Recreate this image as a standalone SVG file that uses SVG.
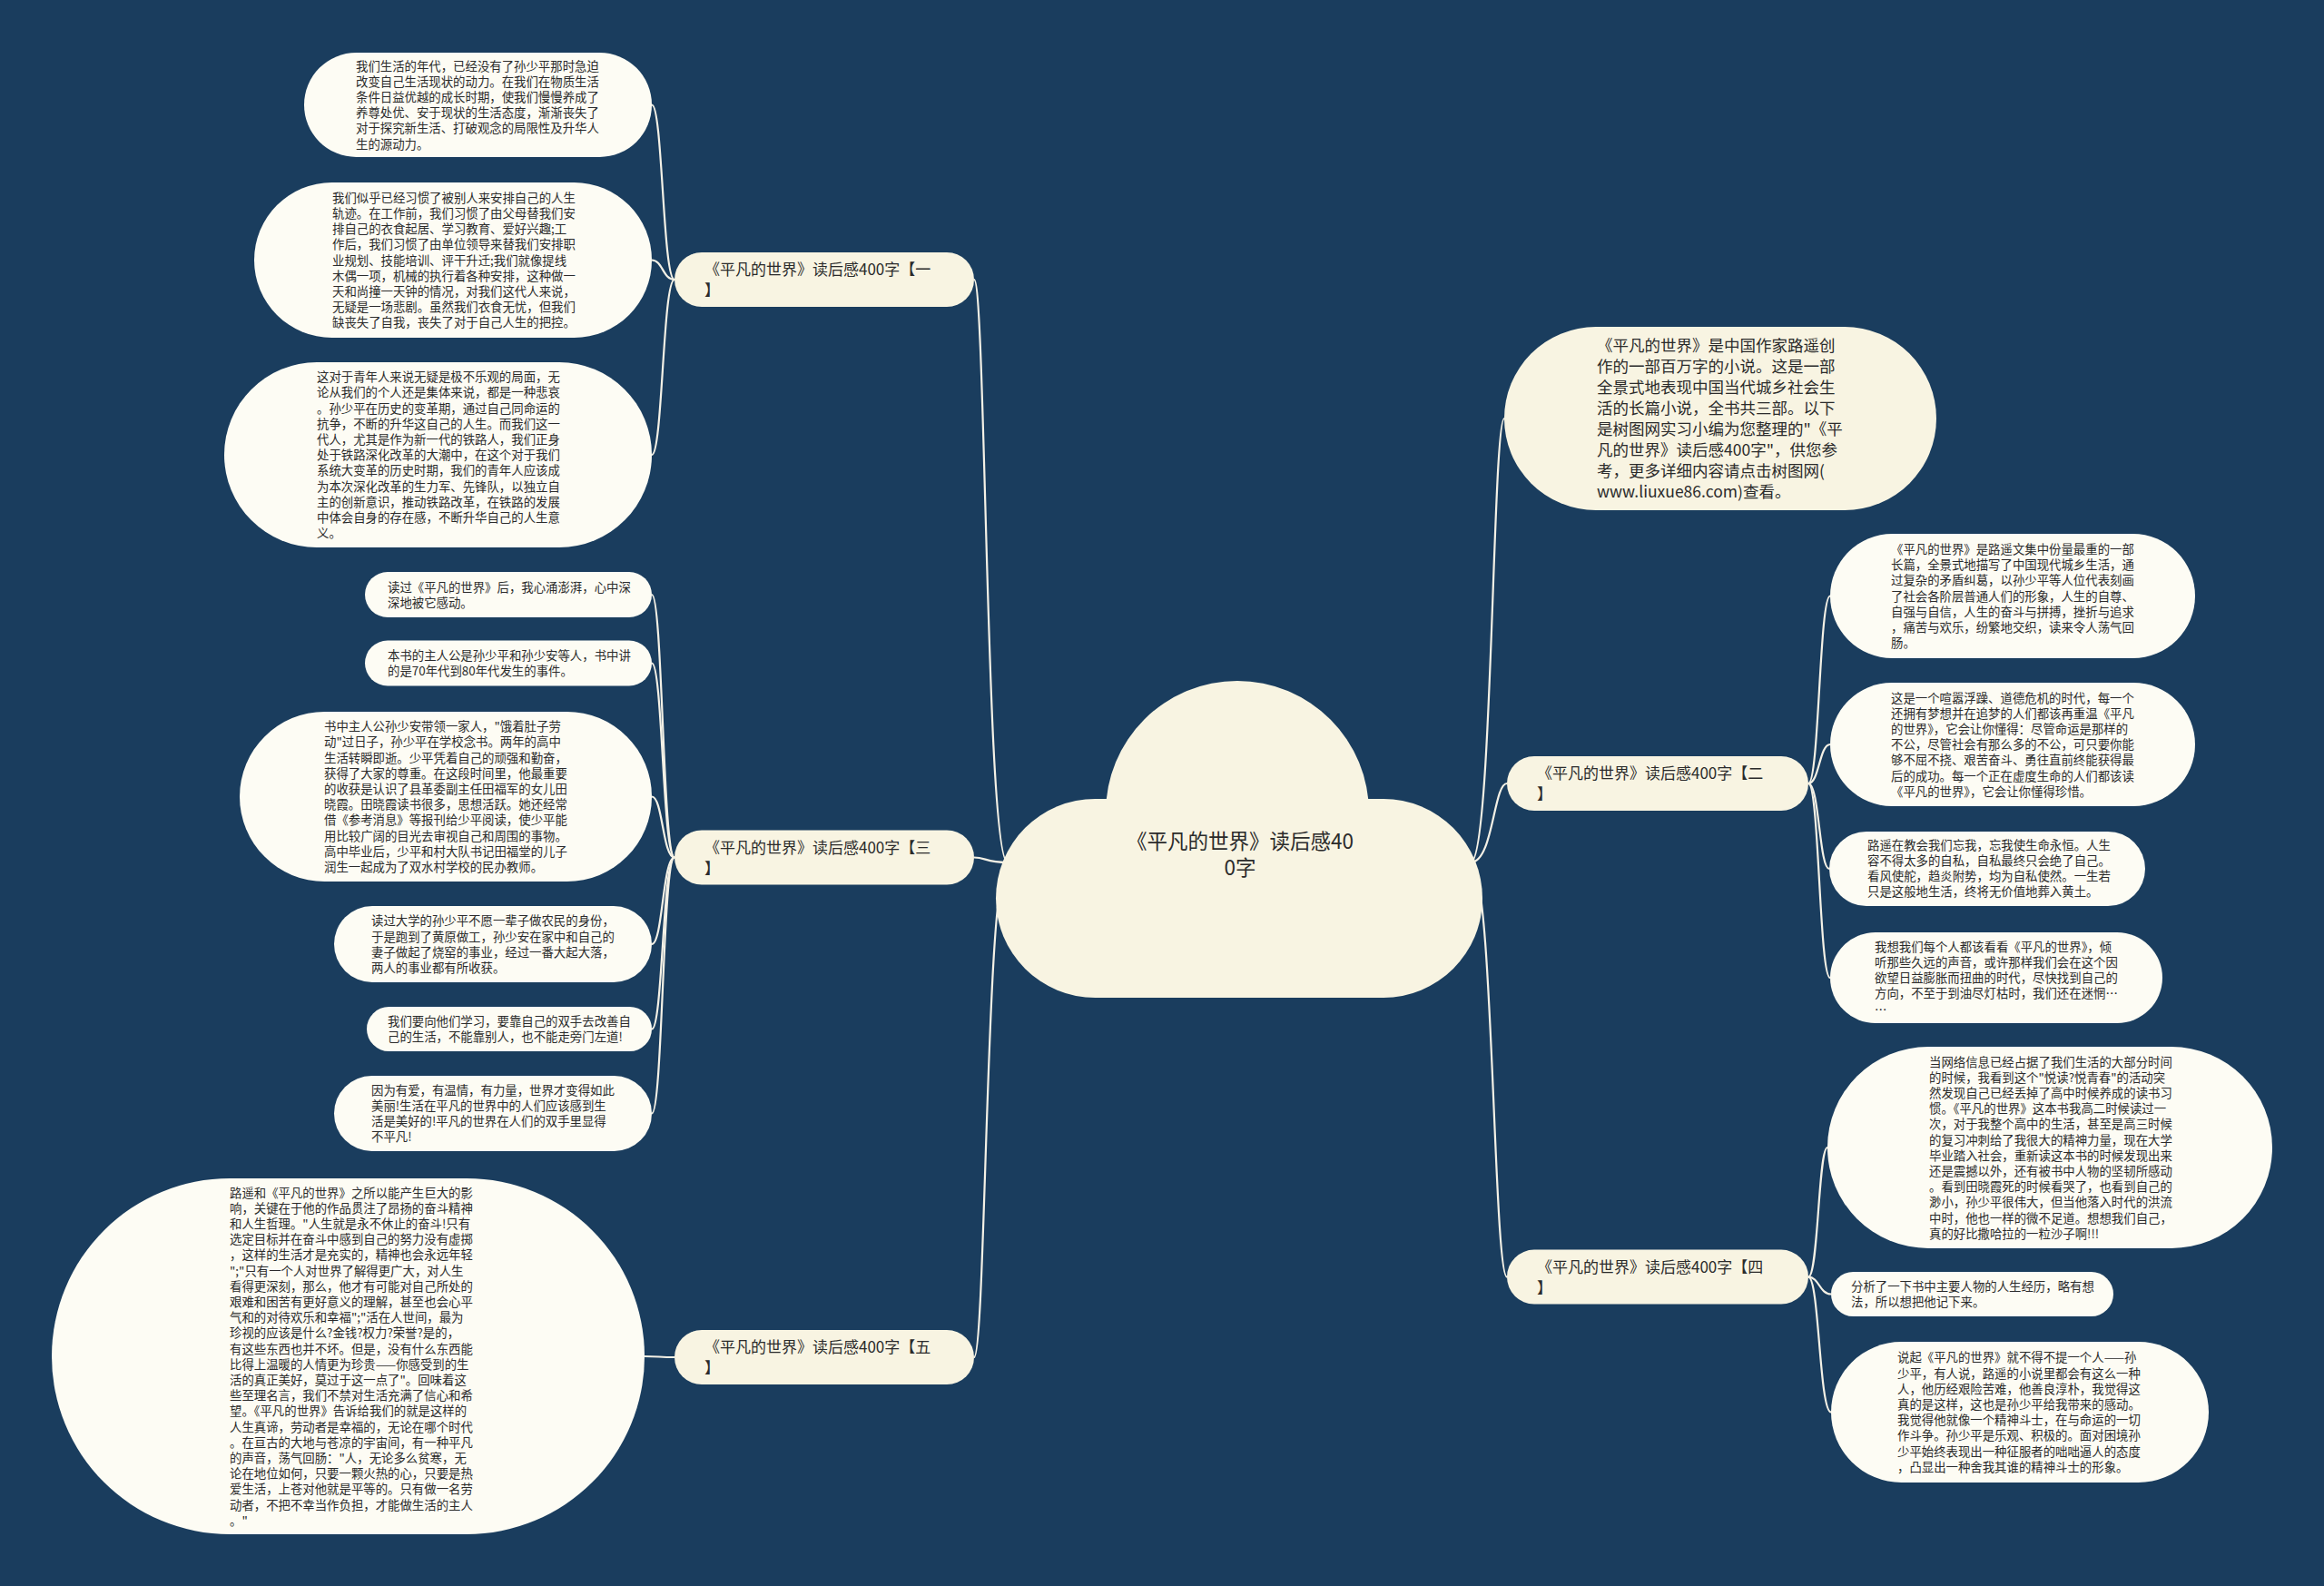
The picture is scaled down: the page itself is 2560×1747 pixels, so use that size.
<svg xmlns="http://www.w3.org/2000/svg" width="2560" height="1747" viewBox="0 0 2560 1747">
<style>
.bg{fill:#1a3d5e}
.leaf{fill:#fdfcf4}
.cream{fill:#f8f4e2}
.c{fill:none;stroke:#f4f1e6;stroke-width:2.2}
text{font-family:"Noto Sans CJK SC","Noto Sans",sans-serif;fill:#2b2b2b}
.t{font-size:13.4px}
.b{font-size:17px}
.i{font-size:17.5px}
.m{font-size:22.5px}
</style>
<rect class="bg" x="0" y="0" width="2560" height="1747"/>
<g id="connectors">
<path class="c" d="M1110,950 C1086,950 1086,308 1073,308"/>
<path class="c" d="M1110,950 C1086,950 1086,944.5 1073,944.5"/>
<path class="c" d="M1110,950 C1086,950 1086,1495 1073,1495"/>
<path class="c" d="M1620,950 C1644,950 1644,461 1657,461"/>
<path class="c" d="M1620,950 C1645,950 1645,863 1660,863"/>
<path class="c" d="M1620,950 C1645,950 1645,1406.6 1660,1406.6"/>
<path class="c" d="M743,308 C730,308 730,115.5 718,115.5"/>
<path class="c" d="M743,308 C730,308 730,286.5 718,286.5"/>
<path class="c" d="M743,308 C730,308 730,501 718,501"/>
<path class="c" d="M743,944.5 C730,944.5 730,655 718,655"/>
<path class="c" d="M743,944.5 C730,944.5 730,730.5 718,730.5"/>
<path class="c" d="M743,944.5 C730,944.5 730,877.5 718,877.5"/>
<path class="c" d="M743,944.5 C730,944.5 730,1040 718,1040"/>
<path class="c" d="M743,944.5 C730,944.5 730,1133.5 718,1133.5"/>
<path class="c" d="M743,944.5 C730,944.5 730,1226.5 718,1226.5"/>
<path class="c" d="M743,1495 C726,1495 726,1494 710,1494"/>
<path class="c" d="M1992,863 C2004,863 2004,656.5 2016,656.5"/>
<path class="c" d="M1992,863 C2004,863 2004,820 2016,820"/>
<path class="c" d="M1992,863 C2004,863 2004,957 2015,957"/>
<path class="c" d="M1992,863 C2004,863 2004,1077 2016,1077"/>
<path class="c" d="M1992,1406.6 C2003,1406.6 2003,1264 2013,1264"/>
<path class="c" d="M1992,1406.6 C2004,1406.6 2004,1425.5 2017,1425.5"/>
<path class="c" d="M1992,1406.6 C2004,1406.6 2004,1555.5 2017,1555.5"/>
</g>
<g id="center">
<circle class="cream" cx="1363" cy="895" r="145"/>
<rect class="cream" x="1097" y="880" width="536" height="219" rx="109.5"/>
<text class="m" text-anchor="middle"><tspan x="1366" y="934.6">《平凡的世界》读后感40</tspan><tspan x="1366" dy="29">0字</tspan></text>
</g>
<g id="intro">
<rect class="cream" x="1657" y="360" width="476" height="202" rx="101"/>
<text class="i"><tspan x="1759" y="387.1">《平凡的世界》是中国作家路遥创</tspan><tspan x="1759" dy="23">作的一部百万字的小说。这是一部</tspan><tspan x="1759" dy="23">全景式地表现中国当代城乡社会生</tspan><tspan x="1759" dy="23">活的长篇小说，全书共三部。以下</tspan><tspan x="1759" dy="23">是树图网实习小编为您整理的"《平</tspan><tspan x="1759" dy="23">凡的世界》读后感400字"，供您参</tspan><tspan x="1759" dy="23">考，更多详细内容请点击树图网(</tspan><tspan x="1759" dy="23">www.liuxue86.com)查看。</tspan></text>
</g>
<g id="branch1">
<rect class="cream" x="743" y="278" width="330" height="60" rx="30"/>
<text class="b"><tspan x="776" y="303">《平凡的世界》读后感400字【一</tspan><tspan x="776" dy="23">】</tspan></text>
</g>
<g id="branch3">
<rect class="cream" x="743" y="914.5" width="330" height="60" rx="30"/>
<text class="b"><tspan x="776" y="939.5">《平凡的世界》读后感400字【三</tspan><tspan x="776" dy="23">】</tspan></text>
</g>
<g id="branch5">
<rect class="cream" x="743" y="1465" width="330" height="60" rx="30"/>
<text class="b"><tspan x="776" y="1490">《平凡的世界》读后感400字【五</tspan><tspan x="776" dy="23">】</tspan></text>
</g>
<g id="branch2">
<rect class="cream" x="1660" y="833" width="332" height="60" rx="30"/>
<text class="b"><tspan x="1693" y="858">《平凡的世界》读后感400字【二</tspan><tspan x="1693" dy="23">】</tspan></text>
</g>
<g id="branch4">
<rect class="cream" x="1660" y="1376.6" width="332" height="60" rx="30"/>
<text class="b"><tspan x="1693" y="1401.6">《平凡的世界》读后感400字【四</tspan><tspan x="1693" dy="23">】</tspan></text>
</g>
<g id="leaf-l1">
<rect class="leaf" x="335" y="58" width="383" height="115" rx="57.5"/>
<text class="t"><tspan x="392" y="77.6">我们生活的年代，已经没有了孙少平那时急迫</tspan><tspan x="392" dy="17.2">改变自己生活现状的动力。在我们在物质生活</tspan><tspan x="392" dy="17.2">条件日益优越的成长时期，使我们慢慢养成了</tspan><tspan x="392" dy="17.2">养尊处优、安于现状的生活态度，渐渐丧失了</tspan><tspan x="392" dy="17.2">对于探究新生活、打破观念的局限性及升华人</tspan><tspan x="392" dy="17.2">生的源动力。</tspan></text>
</g>
<g id="leaf-l2">
<rect class="leaf" x="280" y="201" width="438" height="171" rx="85.5"/>
<text class="t"><tspan x="366" y="222.8">我们似乎已经习惯了被别人来安排自己的人生</tspan><tspan x="366" dy="17.2">轨迹。在工作前，我们习惯了由父母替我们安</tspan><tspan x="366" dy="17.2">排自己的衣食起居、学习教育、爱好兴趣;工</tspan><tspan x="366" dy="17.2">作后，我们习惯了由单位领导来替我们安排职</tspan><tspan x="366" dy="17.2">业规划、技能培训、评干升迁;我们就像提线</tspan><tspan x="366" dy="17.2">木偶一项，机械的执行着各种安排，这种做一</tspan><tspan x="366" dy="17.2">天和尚撞一天钟的情况，对我们这代人来说，</tspan><tspan x="366" dy="17.2">无疑是一场悲剧。虽然我们衣食无忧，但我们</tspan><tspan x="366" dy="17.2">缺丧失了自我，丧失了对于自己人生的把控。</tspan></text>
</g>
<g id="leaf-l3">
<rect class="leaf" x="247" y="399" width="471" height="204" rx="102"/>
<text class="t"><tspan x="349" y="420.1">这对于青年人来说无疑是极不乐观的局面，无</tspan><tspan x="349" dy="17.2">论从我们的个人还是集体来说，都是一种悲哀</tspan><tspan x="349" dy="17.2">。孙少平在历史的变革期，通过自己同命运的</tspan><tspan x="349" dy="17.2">抗争，不断的升华这自己的人生。而我们这一</tspan><tspan x="349" dy="17.2">代人，尤其是作为新一代的铁路人，我们正身</tspan><tspan x="349" dy="17.2">处于铁路深化改革的大潮中，在这个对于我们</tspan><tspan x="349" dy="17.2">系统大变革的历史时期，我们的青年人应该成</tspan><tspan x="349" dy="17.2">为本次深化改革的生力军、先锋队，以独立自</tspan><tspan x="349" dy="17.2">主的创新意识，推动铁路改革，在铁路的发展</tspan><tspan x="349" dy="17.2">中体会自身的存在感，不断升华自己的人生意</tspan><tspan x="349" dy="17.2">义。</tspan></text>
</g>
<g id="leaf-s1">
<rect class="leaf" x="402" y="630" width="316" height="50" rx="25"/>
<text class="t"><tspan x="427" y="651.5">读过《平凡的世界》后，我心涌澎湃，心中深</tspan><tspan x="427" dy="17.2">深地被它感动。</tspan></text>
</g>
<g id="leaf-s2">
<rect class="leaf" x="402" y="705.5" width="316" height="50" rx="25"/>
<text class="t"><tspan x="427" y="727">本书的主人公是孙少平和孙少安等人，书中讲</tspan><tspan x="427" dy="17.2">的是70年代到80年代发生的事件。</tspan></text>
</g>
<g id="leaf-s3">
<rect class="leaf" x="264" y="784" width="454" height="187" rx="93.5"/>
<text class="t"><tspan x="357" y="805.2">书中主人公孙少安带领一家人，"饿着肚子劳</tspan><tspan x="357" dy="17.2">动"过日子，孙少平在学校念书。两年的高中</tspan><tspan x="357" dy="17.2">生活转瞬即逝。少平凭着自己的顽强和勤奋，</tspan><tspan x="357" dy="17.2">获得了大家的尊重。在这段时间里，他最重要</tspan><tspan x="357" dy="17.2">的收获是认识了县革委副主任田福军的女儿田</tspan><tspan x="357" dy="17.2">晓霞。田晓霞读书很多，思想活跃。她还经常</tspan><tspan x="357" dy="17.2">借《参考消息》等报刊给少平阅读，使少平能</tspan><tspan x="357" dy="17.2">用比较广阔的目光去审视自己和周围的事物。</tspan><tspan x="357" dy="17.2">高中毕业后，少平和村大队书记田福堂的儿子</tspan><tspan x="357" dy="17.2">润生一起成为了双水村学校的民办教师。</tspan></text>
</g>
<g id="leaf-s4">
<rect class="leaf" x="368" y="998" width="350" height="84" rx="42"/>
<text class="t"><tspan x="409" y="1019.3">读过大学的孙少平不愿一辈子做农民的身份，</tspan><tspan x="409" dy="17.2">于是跑到了黄原做工，孙少安在家中和自己的</tspan><tspan x="409" dy="17.2">妻子做起了烧窑的事业，经过一番大起大落，</tspan><tspan x="409" dy="17.2">两人的事业都有所收获。</tspan></text>
</g>
<g id="leaf-s5">
<rect class="leaf" x="404" y="1109" width="314" height="49" rx="24.5"/>
<text class="t"><tspan x="427" y="1130">我们要向他们学习，要靠自己的双手去改善自</tspan><tspan x="427" dy="17.2">己的生活，不能靠别人，也不能走旁门左道!</tspan></text>
</g>
<g id="leaf-s6">
<rect class="leaf" x="368" y="1185" width="350" height="83" rx="41.5"/>
<text class="t"><tspan x="409" y="1205.8">因为有爱，有温情，有力量，世界才变得如此</tspan><tspan x="409" dy="17.2">美丽!生活在平凡的世界中的人们应该感到生</tspan><tspan x="409" dy="17.2">活是美好的!平凡的世界在人们的双手里显得</tspan><tspan x="409" dy="17.2">不平凡!</tspan></text>
</g>
<g id="leaf-s7">
<rect class="leaf" x="57" y="1298" width="653" height="392" rx="196"/>
<text class="t"><tspan x="253" y="1318.5">路遥和《平凡的世界》之所以能产生巨大的影</tspan><tspan x="253" dy="17.2">响，关键在于他的作品贯注了昂扬的奋斗精神</tspan><tspan x="253" dy="17.2">和人生哲理。"人生就是永不休止的奋斗!只有</tspan><tspan x="253" dy="17.2">选定目标并在奋斗中感到自己的努力没有虚掷</tspan><tspan x="253" dy="17.2">，这样的生活才是充实的，精神也会永远年轻</tspan><tspan x="253" dy="17.2">";"只有一个人对世界了解得更广大，对人生</tspan><tspan x="253" dy="17.2">看得更深刻，那么，他才有可能对自己所处的</tspan><tspan x="253" dy="17.2">艰难和困苦有更好意义的理解，甚至也会心平</tspan><tspan x="253" dy="17.2">气和的对待欢乐和幸福";"活在人世间，最为</tspan><tspan x="253" dy="17.2">珍视的应该是什么?金钱?权力?荣誉?是的，</tspan><tspan x="253" dy="17.2">有这些东西也并不坏。但是，没有什么东西能</tspan><tspan x="253" dy="17.2">比得上温暖的人情更为珍贵——你感受到的生</tspan><tspan x="253" dy="17.2">活的真正美好，莫过于这一点了"。回味着这</tspan><tspan x="253" dy="17.2">些至理名言，我们不禁对生活充满了信心和希</tspan><tspan x="253" dy="17.2">望。《平凡的世界》告诉给我们的就是这样的</tspan><tspan x="253" dy="17.2">人生真谛，劳动者是幸福的，无论在哪个时代</tspan><tspan x="253" dy="17.2">。在亘古的大地与苍凉的宇宙间，有一种平凡</tspan><tspan x="253" dy="17.2">的声音，荡气回肠："人，无论多么贫寒，无</tspan><tspan x="253" dy="17.2">论在地位如何，只要一颗火热的心，只要是热</tspan><tspan x="253" dy="17.2">爱生活，上苍对他就是平等的。只有做一名劳</tspan><tspan x="253" dy="17.2">动者，不把不幸当作负担，才能做生活的主人</tspan><tspan x="253" dy="17.2">。"</tspan></text>
</g>
<g id="leaf-r1">
<rect class="leaf" x="2016" y="588" width="402" height="137" rx="68.5"/>
<text class="t"><tspan x="2083" y="610">《平凡的世界》是路遥文集中份量最重的一部</tspan><tspan x="2083" dy="17.2">长篇，全景式地描写了中国现代城乡生活，通</tspan><tspan x="2083" dy="17.2">过复杂的矛盾纠葛，以孙少平等人位代表刻画</tspan><tspan x="2083" dy="17.2">了社会各阶层普通人们的形象，人生的自尊、</tspan><tspan x="2083" dy="17.2">自强与自信，人生的奋斗与拼搏，挫折与追求</tspan><tspan x="2083" dy="17.2">，痛苦与欢乐，纷繁地交织，读来令人荡气回</tspan><tspan x="2083" dy="17.2">肠。</tspan></text>
</g>
<g id="leaf-r2">
<rect class="leaf" x="2016" y="752" width="402" height="136" rx="68"/>
<text class="t"><tspan x="2083" y="773.5">这是一个喧嚣浮躁、道德危机的时代，每一个</tspan><tspan x="2083" dy="17.2">还拥有梦想并在追梦的人们都该再重温《平凡</tspan><tspan x="2083" dy="17.2">的世界》，它会让你懂得：尽管命运是那样的</tspan><tspan x="2083" dy="17.2">不公，尽管社会有那么多的不公，可只要你能</tspan><tspan x="2083" dy="17.2">够不屈不挠、艰苦奋斗、勇往直前终能获得最</tspan><tspan x="2083" dy="17.2">后的成功。每一个正在虚度生命的人们都该读</tspan><tspan x="2083" dy="17.2">《平凡的世界》，它会让你懂得珍惜。</tspan></text>
</g>
<g id="leaf-r3">
<rect class="leaf" x="2015" y="916" width="348" height="82" rx="41"/>
<text class="t"><tspan x="2057" y="935.8">路遥在教会我们忘我，忘我使生命永恒。人生</tspan><tspan x="2057" dy="17.2">容不得太多的自私，自私最终只会绝了自己。</tspan><tspan x="2057" dy="17.2">看风使舵，趋炎附势，均为自私使然。一生若</tspan><tspan x="2057" dy="17.2">只是这般地生活，终将无价值地葬入黄土。</tspan></text>
</g>
<g id="leaf-r4">
<rect class="leaf" x="2016" y="1027" width="366" height="100" rx="50"/>
<text class="t"><tspan x="2065" y="1047.7">我想我们每个人都该看看《平凡的世界》，倾</tspan><tspan x="2065" dy="17.2">听那些久远的声音，或许那样我们会在这个因</tspan><tspan x="2065" dy="17.2">欲望日益膨胀而扭曲的时代，尽快找到自己的</tspan><tspan x="2065" dy="17.2">方向，不至于到油尽灯枯时，我们还在迷惘…</tspan><tspan x="2065" dy="17.2">…</tspan></text>
</g>
<g id="leaf-r5">
<rect class="leaf" x="2013" y="1153" width="490" height="222" rx="111"/>
<text class="t"><tspan x="2125" y="1174.5">当网络信息已经占据了我们生活的大部分时间</tspan><tspan x="2125" dy="17.2">的时候，我看到这个"悦读?悦青春"的活动突</tspan><tspan x="2125" dy="17.2">然发现自己已经丢掉了高中时候养成的读书习</tspan><tspan x="2125" dy="17.2">惯。《平凡的世界》这本书我高二时候读过一</tspan><tspan x="2125" dy="17.2">次，对于我整个高中的生活，甚至是高三时候</tspan><tspan x="2125" dy="17.2">的复习冲刺给了我很大的精神力量，现在大学</tspan><tspan x="2125" dy="17.2">毕业踏入社会，重新读这本书的时候发现出来</tspan><tspan x="2125" dy="17.2">还是震撼以外，还有被书中人物的坚韧所感动</tspan><tspan x="2125" dy="17.2">。看到田晓霞死的时候看哭了，也看到自己的</tspan><tspan x="2125" dy="17.2">渺小，孙少平很伟大，但当他落入时代的洪流</tspan><tspan x="2125" dy="17.2">中时，他也一样的微不足道。想想我们自己，</tspan><tspan x="2125" dy="17.2">真的好比撒哈拉的一粒沙子啊!!!</tspan></text>
</g>
<g id="leaf-r6">
<rect class="leaf" x="2017" y="1401" width="311" height="49" rx="24.5"/>
<text class="t"><tspan x="2039" y="1422">分析了一下书中主要人物的人生经历，略有想</tspan><tspan x="2039" dy="17.2">法，所以想把他记下来。</tspan></text>
</g>
<g id="leaf-r7">
<rect class="leaf" x="2017" y="1478" width="416" height="155" rx="77.5"/>
<text class="t"><tspan x="2090" y="1500.4">说起《平凡的世界》就不得不提一个人——孙</tspan><tspan x="2090" dy="17.2">少平，有人说，路遥的小说里都会有这么一种</tspan><tspan x="2090" dy="17.2">人，他历经艰险苦难，他善良淳朴，我觉得这</tspan><tspan x="2090" dy="17.2">真的是这样，这也是孙少平给我带来的感动。</tspan><tspan x="2090" dy="17.2">我觉得他就像一个精神斗士，在与命运的一切</tspan><tspan x="2090" dy="17.2">作斗争。孙少平是乐观、积极的。面对困境孙</tspan><tspan x="2090" dy="17.2">少平始终表现出一种征服者的咄咄逼人的态度</tspan><tspan x="2090" dy="17.2">，凸显出一种舍我其谁的精神斗士的形象。</tspan></text>
</g>
</svg>
